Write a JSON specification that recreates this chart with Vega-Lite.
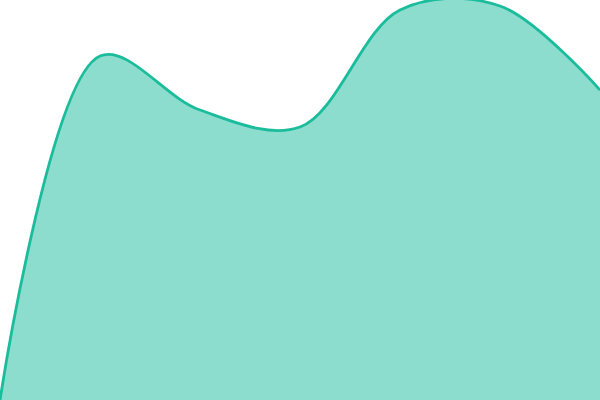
{
  "$schema": "https://vega.github.io/schema/vega-lite/v6.json",
  "width": 600,
  "height": 400,
  "autosize": {"type": "none"},
  "padding": 0,
  "data": {
    "values": [
      {"x": 0, "v": 0},
      {"x": 100, "v": 344},
      {"x": 200, "v": 290},
      {"x": 300, "v": 273},
      {"x": 400, "v": 390},
      {"x": 500, "v": 394},
      {"x": 600, "v": 310}
    ]
  },
  "mark": {
    "type": "area",
    "interpolate": "catmull-rom",
    "color": "#1abc9c",
    "fillOpacity": 0.5,
    "line": {"color": "#1abc9c", "strokeWidth": 2.8}
  },
  "encoding": {
    "x": {"field": "x", "type": "quantitative", "axis": null, "scale": {"domain": [0, 600], "nice": false, "zero": false}},
    "y": {"field": "v", "type": "quantitative", "axis": null, "scale": {"domain": [0, 400], "nice": false}}
  },
  "config": {"view": {"stroke": null}}
}
